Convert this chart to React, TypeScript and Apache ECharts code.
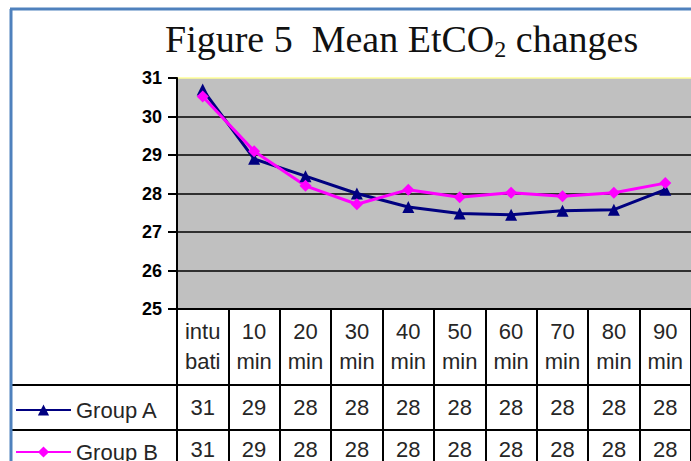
import React, { useEffect, useRef } from "react";
import * as echarts from "echarts";

const categories = ["intu\nbati", "10\nmin", "20\nmin", "30\nmin", "40\nmin", "50\nmin", "60\nmin", "70\nmin", "80\nmin", "90\nmin"];
const groupA = [30.7, 28.9, 28.45, 28.0, 27.65, 27.48, 27.45, 27.55, 27.58, 28.1];
const groupB = [30.52, 29.1, 28.2, 27.72, 28.1, 27.9, 28.02, 27.93, 28.02, 28.27];
const tableA = ["31", "29", "28", "28", "28", "28", "28", "28", "28", "28"];
const tableB = ["31", "29", "28", "28", "28", "28", "28", "28", "28", "28"];
const yTicks = { min: 25, max: 31, interval: 1 };

const SANS = "'Liberation Sans', Arial, sans-serif";
const TXT = "#262626";

export default function App() {
  const ref = useRef<HTMLDivElement>(null);
  useEffect(() => {
    if (!ref.current) return;
    const chart = echarts.init(ref.current, null, { renderer: "svg" });
    const hiddenAxis = (offset: number, labels: string[]) => ({
      type: "category",
      data: categories,
      gridIndex: 0,
      position: "bottom",
      offset,
      boundaryGap: true,
      axisLine: { show: false },
      axisTick: { show: false },
      splitLine: { show: false },
      axisLabel: {
        interval: 0,
        margin: 8,
        fontFamily: SANS,
        fontSize: 22,
        lineHeight: 24,
        color: TXT,
        formatter: (_v: string, i: number) => labels[i],
      },
    });
    chart.setOption({
      animation: false,
      backgroundColor: "#fff",
      title: {
        text: "{a|Figure 5  Mean EtCO}{s|2}{a| changes}",
        left: 165,
        top: 17,
        padding: 0,
        textStyle: {
          fontWeight: "normal",
          rich: {
            a: { fontFamily: "'Liberation Serif', serif", fontSize: 38, lineHeight: 44, fontWeight: "normal", color: "#111" },
            s: { fontFamily: "'Liberation Serif', serif", fontSize: 24, lineHeight: 18, fontWeight: "normal", verticalAlign: "bottom", color: "#111" },
          },
        },
      },
      legend: [
        {
          data: ["Group A"],
          left: 15,
          top: 398,
          padding: 0,
          itemWidth: 55,
          itemHeight: 14,
          textStyle: { fontFamily: SANS, fontSize: 22, lineHeight: 24, color: TXT },
        },
        {
          data: ["Group B"],
          left: 15,
          top: 440,
          padding: 0,
          itemWidth: 55,
          itemHeight: 14,
          textStyle: { fontFamily: SANS, fontSize: 22, lineHeight: 24, color: TXT },
        },
      ],
      grid: {
        left: 177,
        top: 78,
        width: 526,
        height: 232,
        show: true,
        backgroundColor: "#c0c0c0",
        borderWidth: 0,
      },
      xAxis: [
        {
          type: "category",
          data: categories,
          boundaryGap: true,
          axisLine: { show: true, lineStyle: { color: "#000", width: 2 } },
          axisTick: { show: true, interval: 0, length: 160, lineStyle: { color: "#000", width: 2 } },
          axisLabel: {
            interval: 0,
            margin: 7,
            fontFamily: SANS,
            fontSize: 22,
            lineHeight: 30,
            color: TXT,
          },
          splitLine: { show: false },
        },
        hiddenAxis(78, tableA),
        hiddenAxis(120, tableB),
      ],
      yAxis: {
        type: "value",
        min: yTicks.min,
        max: yTicks.max,
        interval: yTicks.interval,
        axisLine: { show: true, lineStyle: { color: "#000", width: 2 } },
        axisTick: { show: true, length: 9, lineStyle: { color: "#000", width: 2 } },
        axisLabel: {
          margin: 15,
          fontFamily: SANS,
          fontSize: 18,
          fontWeight: "bold",
          color: "#000",
        },
        splitLine: {
          show: true,
          lineStyle: { color: ["#000", "#000", "#000", "#000", "#000", "#000", "#ffff99"], width: 1.5 },
        },
      },
      series: [
        {
          name: "Group A",
          type: "line",
          data: groupA,
          symbol: "triangle",
          symbolSize: 12,
          color: "#000080",
          lineStyle: { width: 3, color: "#000080" },
          itemStyle: { color: "#000080" },
        },
        {
          name: "Group B",
          type: "line",
          data: groupB,
          symbol: "diamond",
          symbolSize: 12,
          color: "#ff00ff",
          lineStyle: { width: 3, color: "#ff00ff" },
          itemStyle: { color: "#ff00ff" },
        },
      ],
      graphic: [
        { type: "line", shape: { x1: 12, y1: 385, x2: 691, y2: 385 }, style: { stroke: "#000", lineWidth: 2 } },
        { type: "line", shape: { x1: 12, y1: 430, x2: 691, y2: 430 }, style: { stroke: "#000", lineWidth: 2 } },
        { type: "line", shape: { x1: 11, y1: 9, x2: 11, y2: 461 }, style: { stroke: "#4f81bd", lineWidth: 3 } },
        { type: "line", shape: { x1: 10, y1: 9, x2: 691, y2: 9 }, style: { stroke: "#4f81bd", lineWidth: 3 } },
      ],
    });
    return () => chart.dispose();
  }, []);
  return <div ref={ref} style={{ position: "fixed", left: 0, top: 0, width: 691, height: 461 }} />;
}
